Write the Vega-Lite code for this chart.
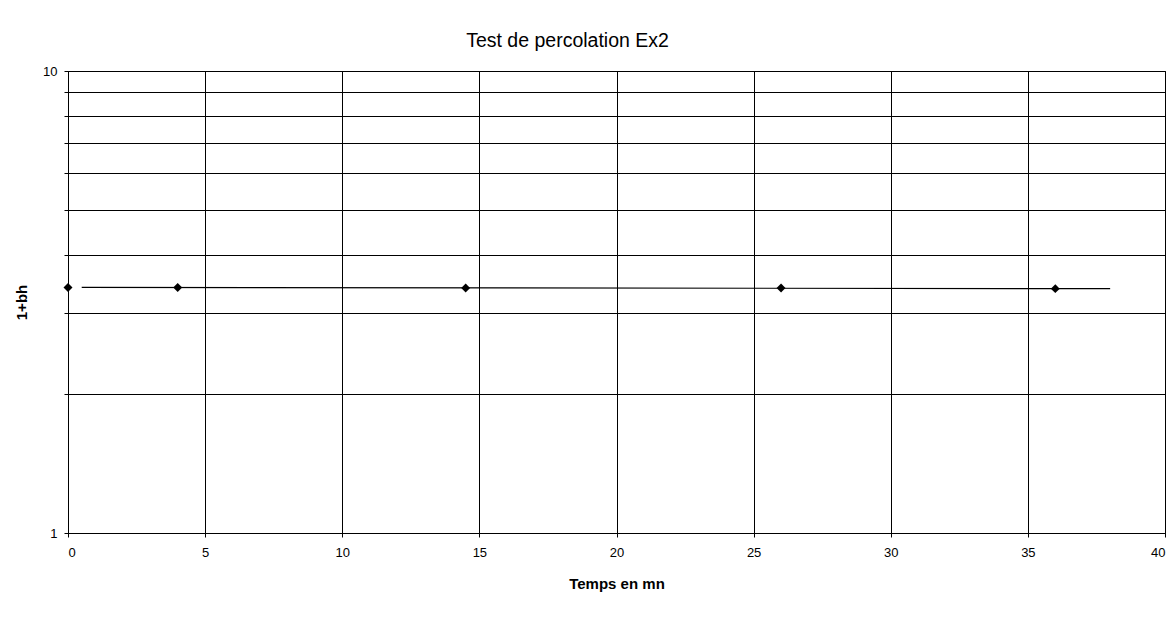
{
  "$schema": "https://vega.github.io/schema/vega-lite/v6.json",
  "autosize": {"type": "none"},
  "width": 1097,
  "height": 462,
  "padding": {"left": 68, "top": 71, "right": 8, "bottom": 97},
  "background": "white",
  "title": {
    "text": "Test de percolation Ex2",
    "font": "Liberation Sans",
    "fontSize": 19.5,
    "fontWeight": "normal",
    "color": "black",
    "anchor": "middle",
    "dx": -49,
    "offset": 14
  },
  "datasets": {
    "points": [
      {"t": 0, "v": 3.40},
      {"t": 4, "v": 3.40},
      {"t": 14.5, "v": 3.39},
      {"t": 26, "v": 3.39},
      {"t": 36, "v": 3.38}
    ],
    "trend": [
      {"t": 0.5, "v": 3.40},
      {"t": 38, "v": 3.38}
    ]
  },
  "layer": [
    {
      "data": {"name": "trend"},
      "mark": {"type": "line", "color": "black", "strokeWidth": 1.2},
      "encoding": {
        "x": {"field": "t", "type": "quantitative"},
        "y": {"field": "v", "type": "quantitative"}
      }
    },
    {
      "data": {"name": "points"},
      "mark": {"type": "point", "shape": "diamond", "filled": true, "color": "black", "size": 80, "opacity": 1},
      "encoding": {
        "x": {
          "field": "t", "type": "quantitative",
          "scale": {"domain": [0, 40], "nice": false, "zero": false},
          "axis": {
            "values": [0, 5, 10, 15, 20, 25, 30, 35, 40],
            "labelFontSize": 13,
            "labelPadding": 9,
            "title": "Temps en mn",
            "titleFontWeight": "bold",
            "titleFontSize": 15,
            "titlePadding": 17
          }
        },
        "y": {
          "field": "v", "type": "quantitative",
          "scale": {"type": "log", "domain": [1, 10], "nice": false},
          "axis": {
            "values": [1, 2, 3, 4, 5, 6, 7, 8, 9, 10],
            "labelExpr": "datum.value == 1 || datum.value == 10 ? datum.label : ''",
            "labelFontSize": 13,
            "labelPadding": 7,
            "title": "1+bh",
            "titleFontWeight": "bold",
            "titleFontSize": 15,
            "titlePadding": 13
          }
        }
      }
    }
  ],
  "config": {
    "font": "Liberation Sans",
    "view": {"stroke": "black", "strokeWidth": 1},
    "axis": {
      "grid": true,
      "gridColor": "black",
      "gridOpacity": 1,
      "gridWidth": 1,
      "domainColor": "black",
      "tickColor": "black",
      "tickSize": 4,
      "labelColor": "black",
      "titleColor": "black",
      "labelFont": "Liberation Sans",
      "titleFont": "Liberation Sans"
    }
  }
}
